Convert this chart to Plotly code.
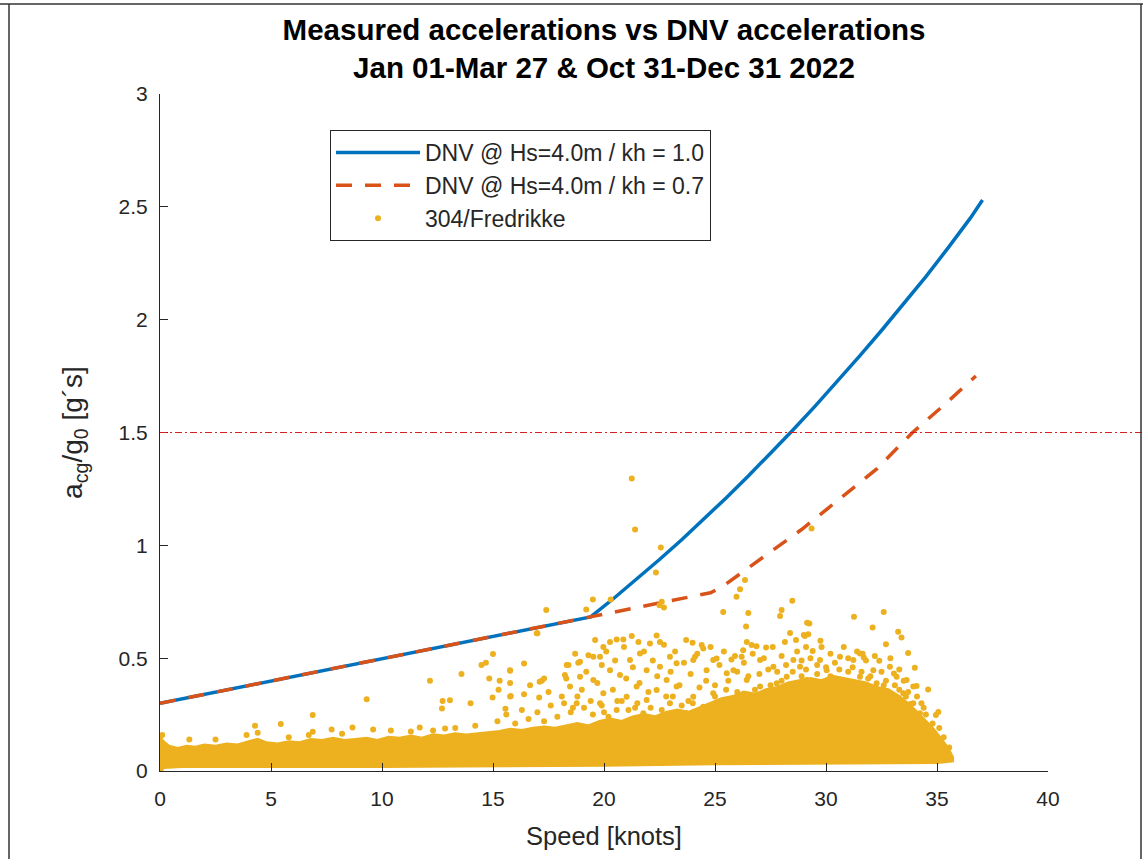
import plotly.graph_objects as go

# ---------------- data ----------------
# DNV curve, kh = 1.0 (speed [knots], acceleration [g])
dnv10_speed = [0.0, 19.4, 20.5, 21.5, 22.5, 23.5, 24.5, 25.5, 26.5, 27.5, 28.5, 29.5, 30.5,
               31.5, 32.5, 33.5, 34.5, 35.5, 36.5, 37.05]
dnv10_acc = [0.30, 0.683, 0.770, 0.852, 0.937, 1.025, 1.116, 1.210, 1.307, 1.407, 1.510, 1.616,
             1.725, 1.837, 1.952, 2.070, 2.191, 2.318, 2.450, 2.53]

# DNV curve, kh = 0.7
dnv07_speed = [0.0, 19.4, 20.4, 22.5, 24.2, 24.8, 25.3, 26.5, 27.7, 28.9, 30.1, 31.2,
               32.3, 33.9, 35.3, 36.75]
dnv07_acc = [0.30, 0.683, 0.70, 0.744, 0.775, 0.79, 0.815, 0.90, 0.988, 1.07, 1.165, 1.254,
             1.34, 1.50, 1.62, 1.75]

# Limit line
limit_acc = 1.5

# Dense core of the measured cloud: upper edge and lower edge
core_speed = [0, 0.15, 0.4, 0.8, 1.2, 1.6, 2.0, 2.5, 3.0, 3.5, 4.0, 4.4, 4.8, 5.3, 5.8, 6.3,
              6.8, 7.3, 7.8, 8.3, 8.8, 9.3, 9.8, 10.3, 10.8, 11.3, 11.8, 12.3, 12.8, 13.3,
              13.8, 14.3, 14.8, 15.3, 15.8, 16.3, 16.8, 17.3, 17.8, 18.3, 18.8, 19.3, 19.8,
              20.3, 20.8, 21.3, 21.8, 22.3, 22.8, 23.3, 23.8, 24.3, 24.8, 25.3, 25.8, 26.3,
              26.8, 27.3, 27.8, 28.3, 28.8, 29.3, 29.8, 30.3, 30.8, 31.3, 31.8, 32.3, 32.8,
              33.3, 33.8, 34.3, 34.8, 35.2, 35.5, 35.7]
core_top = [0.15, 0.13, 0.11, 0.10, 0.11, 0.105, 0.115, 0.11, 0.12, 0.115, 0.13, 0.14,
            0.125, 0.12, 0.13, 0.125, 0.14, 0.135, 0.145, 0.135, 0.14, 0.145, 0.135, 0.15,
            0.145, 0.155, 0.145, 0.16, 0.155, 0.165, 0.16, 0.165, 0.17, 0.175, 0.185, 0.18,
            0.19, 0.195, 0.19, 0.20, 0.21, 0.20, 0.22, 0.23, 0.22, 0.24, 0.25, 0.24, 0.26,
            0.27, 0.26, 0.28, 0.30, 0.32, 0.33, 0.35, 0.34, 0.36, 0.37, 0.39, 0.40, 0.41,
            0.40, 0.42, 0.41, 0.40, 0.39, 0.37, 0.36, 0.33, 0.29, 0.24, 0.19, 0.14, 0.10,
            0.06]
core_bot_speed = [35.7, 35.0, 30.0, 25.0, 20.0, 15.0, 10.0, 5.0, 1.0, 0.15, 0.0]
core_bot = [0.045, 0.038, 0.036, 0.032, 0.026, 0.022, 0.02, 0.02, 0.02, 0.015, -0.01]

# Individual measured points outside the dense core (speed, acceleration)
measured_points = [
    (21.25, 1.296), (21.4, 1.07), (22.56, 0.99), (22.34, 0.88), (19.5, 0.76), (20.3, 0.76),
    (19.2, 0.716), (17.4, 0.713), (17.0, 0.61), (22.6, 0.75), (22.7, 0.725), (22.5, 0.735),
    (26.35, 0.846), (26.13, 0.805), (25.97, 0.772), (29.35, 1.075), (25.37, 0.705),
    (26.5, 0.70), (26.4, 0.64), (28.48, 0.754), (28.0, 0.713), (27.93, 0.687),
    (29.15, 0.657), (29.25, 0.654), (31.26, 0.684), (32.6, 0.705), (32.1, 0.636),
    (32.7, 0.562), (33.25, 0.617), (33.4, 0.592), (33.7, 0.523), (34.0, 0.458),
    (34.08, 0.377), (34.6, 0.361), (34.95, 0.248), (35.06, 0.262), (35.55, 0.104),
    (35.06, 0.13), (30.9, -0.003), (31.65, 0.52), (31.7, 0.503), (32.4, 0.488),
    (29.75, 0.577), (29.1, 0.55), (29.4, 0.532), (29.0, 0.603), (28.38, 0.612),
    (28.65, 0.58), (29.05, 0.598), (29.2, 0.606), (28.15, 0.572), (27.3, 0.547),
    (26.43, 0.572), (26.27, 0.535), (26.65, 0.558), (26.87, 0.553), (25.07, 0.498),
    (25.74, 0.494), (26.2, 0.506), (24.4, 0.558), (24.1, 0.506), (23.7, 0.58),
    (24.47, 0.543), (23.99, 0.568), (22.37, 0.60), (22.52, 0.572), (22.07, 0.565),
    (21.55, 0.572), (21.25, 0.598), (20.87, 0.583), (20.57, 0.583), (20.27, 0.572),
    (19.97, 0.55), (19.82, 0.506), (19.52, 0.506), (19.3, 0.513), (18.92, 0.484),
    (18.32, 0.47), (18.84, 0.48), (18.4, 0.47), (18.24, 0.425), (16.4, 0.476),
    (15.77, 0.447), (17.2, 0.40), (16.67, 0.38), (15.77, 0.33), (33.06, 0.432),
    (33.8, 0.297),
    (21.17, 0.492), (21.62, 0.521), (20.27, 0.447), (20.72, 0.425), (21.92, 0.447),
    (22.52, 0.462), (22.97, 0.506), (23.27, 0.477), (24.02, 0.492), (24.62, 0.447),
    (24.92, 0.492), (21.47, 0.374), (22.37, 0.359), (22.82, 0.403), (23.27, 0.374),
    (19.52, 0.403), (18.92, 0.418), (18.47, 0.374), (19.97, 0.344), (21.02, 0.329),
    (21.92, 0.315), (22.97, 0.30), (24.02, 0.329), (24.92, 0.344), (25.53, 0.433),
    (25.83, 0.447), (27.03, 0.492), (27.63, 0.462), (28.53, 0.492), (28.83, 0.462),
    (29.73, 0.492), (30.03, 0.447), (30.63, 0.506), (31.23, 0.492), (31.53, 0.521),
    (32.13, 0.447), (32.88, 0.462), (33.18, 0.418), (32.28, 0.389), (33.63, 0.403),
    (33.93, 0.374), (33.48, 0.344), (33.93, 0.30), (34.23, 0.256), (19.82, 0.30),
    (18.77, 0.30), (20.57, 0.27), (21.77, 0.256), (23.72, 0.256), (24.47, 0.285),
    (26.43, 0.403), (27.03, 0.374), (27.78, 0.389), (28.23, 0.418), (29.13, 0.403),
    (29.43, 0.359), (30.48, 0.403), (30.93, 0.374), (31.53, 0.418), (31.83, 0.344),
    (32.58, 0.329), (26.13, 0.329), (27.33, 0.315), (28.53, 0.329), (29.73, 0.315),
    (30.78, 0.315), (33.03, 0.285),
    (4.28, 0.20), (5.44, 0.208), (6.88, 0.248), (6.88, 0.174), (1.32, 0.14), (9.31, 0.318),
    (8.67, 0.193), (7.73, 0.184), (9.6, 0.184), (11.7, 0.193), (12.84, 0.188),
    (12.16, 0.40), (12.73, 0.31), (13.06, 0.314), (12.7, 0.277), (13.58, 0.43),
    (13.99, 0.30), (14.48, 0.47), (14.68, 0.48), (15.0, 0.518), (14.83, 0.41), (15.3, 0.40),
    (14.98, 0.326), (15.25, 0.36), (15.77, 0.444), (15.8, 0.332), (15.77, 0.39),
    (15.56, 0.276), (16.4, 0.34), (17.1, 0.395), (17.3, 0.41), (17.08, 0.326),
    (17.5, 0.35), (16.97, 0.61),
    (3.9, 0.16), (4.4, 0.17), (6.7, 0.16), (8.2, 0.165), (10.4, 0.18), (11.3, 0.175),
    (12.3, 0.18), (13.3, 0.19), (14.2, 0.20), (2.5, 0.14), (5.8, 0.15), (0.1, 0.16),
    (15.2, 0.22), (15.6, 0.25), (16.0, 0.21), (16.3, 0.27), (16.6, 0.23), (17.0, 0.26),
    (17.3, 0.22), (17.6, 0.29), (17.9, 0.24), (18.2, 0.30), (18.5, 0.26), (18.8, 0.33),
    (19.1, 0.28), (19.5, 0.25), (19.9, 0.29), (20.2, 0.24), (20.6, 0.31), (21.1, 0.27),
    (21.5, 0.30), (22.1, 0.28), (22.6, 0.27), (23.1, 0.33), (23.5, 0.29), (24.0, 0.30),
    (25.0, 0.33), (25.5, 0.36), (26.0, 0.35), (26.8, 0.36), (27.5, 0.38), (28.0, 0.40),
    (28.9, 0.42), (29.6, 0.43), (30.2, 0.42), (31.0, 0.44), (31.9, 0.41), (32.6, 0.38),
    (33.3, 0.36), (33.6, 0.33), (34.4, 0.28),
    (18.1, 0.33), (18.3, 0.41), (18.6, 0.28), (18.7, 0.52), (19.0, 0.36), (19.2, 0.44),
    (19.4, 0.31), (19.6, 0.58), (19.7, 0.39), (19.9, 0.47), (20.0, 0.26), (20.1, 0.53),
    (20.4, 0.36), (20.5, 0.49), (20.8, 0.31), (20.9, 0.55), (21.0, 0.41), (21.3, 0.46),
    (21.4, 0.28), (21.6, 0.39), (21.8, 0.53), (22.0, 0.35), (22.2, 0.49), (22.4, 0.42),
    (22.7, 0.56), (22.8, 0.33), (23.0, 0.44), (23.2, 0.53), (23.4, 0.38), (23.6, 0.48),
    (23.8, 0.31), (23.9, 0.43), (24.2, 0.52), (24.3, 0.37), (24.6, 0.40), (24.8, 0.55),
    (25.0, 0.38), (25.2, 0.47), (25.4, 0.53), (25.6, 0.40), (25.9, 0.51), (26.0, 0.44),
    (26.3, 0.48), (26.5, 0.42), (26.7, 0.52), (27.0, 0.43), (27.2, 0.50), (27.4, 0.45),
    (27.6, 0.55), (27.8, 0.44), (28.0, 0.51), (28.2, 0.47), (28.5, 0.44), (28.7, 0.53),
    (28.9, 0.49), (29.1, 0.45), (29.3, 0.50), (29.6, 0.47), (29.8, 0.55), (30.0, 0.46),
    (30.2, 0.52), (30.4, 0.48), (30.6, 0.45), (30.8, 0.55), (31.0, 0.50), (31.2, 0.46),
    (31.4, 0.53), (31.6, 0.44), (31.8, 0.49), (32.0, 0.42), (32.2, 0.51), (32.5, 0.44),
    (32.7, 0.40), (32.9, 0.50), (33.1, 0.38), (33.3, 0.45), (33.5, 0.40), (33.7, 0.35),
    (34.1, 0.33), (34.3, 0.30), (34.5, 0.25), (34.8, 0.21), (35.1, 0.19), (35.3, 0.15),
]
meas_speed = [p[0] for p in measured_points]
meas_acc = [p[1] for p in measured_points]

x_ticks = [0, 5, 10, 15, 20, 25, 30, 35, 40]
y_ticks = [0, 0.5, 1, 1.5, 2, 2.5, 3]
y_tick_text = ["0", "0.5", "1", "1.5", "2", "2.5", "3"]

# ---------------- styling ----------------
BLUE = "#0072BD"
ORANGE = "#D95319"
YELLOW = "#EDB120"
AXC = "#262626"
FONT = "Liberation Sans, Arial, Helvetica, sans-serif"

fig = go.Figure()

fig.add_trace(go.Scatter(
    x=dnv10_speed, y=dnv10_acc, mode="lines",
    line=dict(color=BLUE, width=3.5),
    name="DNV @ Hs=4.0m / kh = 1.0"))

fig.add_trace(go.Scatter(
    x=dnv07_speed, y=dnv07_acc, mode="lines",
    line=dict(color=ORANGE, width=3.5, dash="16px,13px"),
    name="DNV @ Hs=4.0m / kh = 0.7"))

fig.add_trace(go.Scatter(
    x=core_speed + core_bot_speed, y=core_top + core_bot,
    mode="lines", fill="toself", fillcolor=YELLOW,
    line=dict(color=YELLOW, width=3),
    showlegend=False, hoverinfo="skip"))

fig.add_trace(go.Scatter(
    x=meas_speed, y=meas_acc, mode="markers",
    marker=dict(color=YELLOW, size=6, line=dict(width=0)),
    cliponaxis=False,
    name="304/Fredrikke"))

# plot area in pixels: x 160..1048, y 94..771
L, R, T, B = 160, 95, 94, 88
W, H = 1143, 859
pw, ph = W - L - R, H - T - B


def px_to_paper_x(px):
    return (px - L) / pw


def py_to_paper_y(py):
    return (H - B - py) / ph


shapes = [
    # horizontal limit line, extends to the right edge of the figure
    dict(type="line", xref="paper", yref="y", x0=0, x1=px_to_paper_x(1143), y0=limit_acc, y1=limit_acc,
         line=dict(color="#D42020", width=1, dash="7px,3px,2px,3px")),
    # outer frame of the figure window
    dict(type="line", xref="paper", yref="paper", x0=px_to_paper_x(0), x1=px_to_paper_x(1143),
         y0=py_to_paper_y(4), y1=py_to_paper_y(4), line=dict(color="#333333", width=1.5)),
    dict(type="line", xref="paper", yref="paper", x0=px_to_paper_x(9), x1=px_to_paper_x(9),
         y0=py_to_paper_y(4), y1=py_to_paper_y(870), line=dict(color="#333333", width=1.5)),
    dict(type="line", xref="paper", yref="paper", x0=px_to_paper_x(1141), x1=px_to_paper_x(1141),
         y0=py_to_paper_y(4), y1=py_to_paper_y(870), line=dict(color="#333333", width=1.5)),
]

fig.update_layout(
    width=W, height=H, autosize=False,
    margin=dict(l=L, r=R, t=T, b=B, autoexpand=False),
    paper_bgcolor="white", plot_bgcolor="white",
    font=dict(family=FONT, color=AXC),
    title=dict(
        text="Measured accelerations vs DNV accelerations<br>Jan 01-Mar 27 & Oct 31-Dec 31 2022",
        x=0.5, xref="paper", xanchor="center",
        y=1 - 40 / H, yref="container", yanchor="top",
        font=dict(family=FONT, size=29.5, color="black", weight="bold")),
    showlegend=True,
    legend=dict(
        x=px_to_paper_x(330), y=py_to_paper_y(130), xanchor="left", yanchor="top",
        xref="paper", yref="paper",
        bgcolor="white", bordercolor=AXC, borderwidth=1,
        font=dict(family=FONT, size=23, color=AXC),
        itemwidth=84, tracegroupgap=0),
    xaxis=dict(
        range=[0, 40], tickvals=x_ticks, ticktext=[str(v) for v in x_ticks],
        showgrid=False, zeroline=False, showline=True, linecolor=AXC, linewidth=1,
        ticks="inside", ticklen=8, tickcolor=AXC, mirror=False, automargin=False,
        ticklabelstandoff=9,
        tickfont=dict(family=FONT, size=21, color=AXC),
        title=dict(text="Speed [knots]", font=dict(family=FONT, size=25.5, color=AXC), standoff=17)),
    yaxis=dict(
        range=[0, 3], tickvals=y_ticks, ticktext=y_tick_text,
        showgrid=False, zeroline=False, showline=True, linecolor=AXC, linewidth=1,
        ticks="inside", ticklen=8, tickcolor=AXC, mirror=False, automargin=False,
        ticklabelstandoff=7,
        tickfont=dict(family=FONT, size=21, color=AXC),
        title=dict(text="a<sub>cg</sub>/g<sub>0</sub> [g´s]", font=dict(family=FONT, size=28, color=AXC),
                   standoff=27)),
    shapes=shapes,
)

fig.write_html("out.html",
               config={"displayModeBar": False},
               post_script="document.body.style.margin='0';document.body.style.padding='0';")
